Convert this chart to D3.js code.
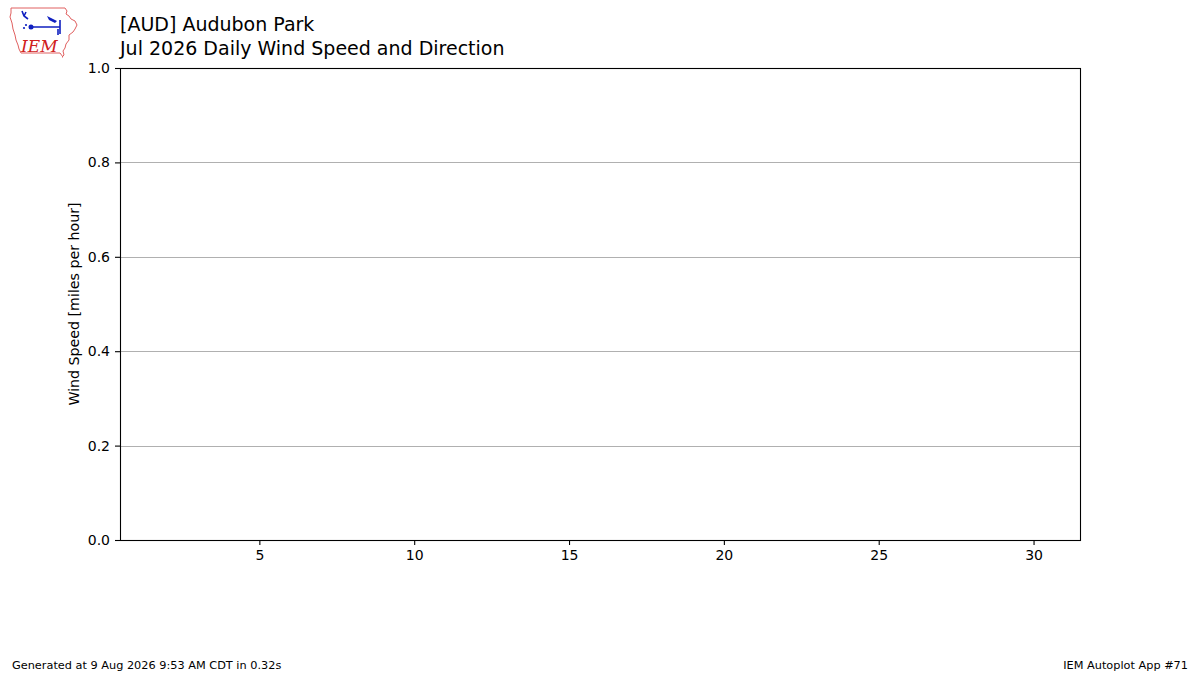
<!DOCTYPE html>
<html>
<head>
<meta charset="utf-8">
<script src="https://cdn.jsdelivr.net/npm/d3@7"></script>
<style>
  body { margin: 0; background: #fff; }
  svg text { font-family: "DejaVu Sans", sans-serif; }
</style>
</head>
<body>
<div class="container_graph"></div>
<script>
// station / month labels
const stationTitle = "[AUD] Audubon Park";
const chartTitle = "Jul 2026 Daily Wind Speed and Direction";
const footerLeft = "Generated at 9 Aug 2026 9:53 AM CDT in 0.32s";
const footerRight = "IEM Autoplot App #71";

// no observations for the month
const days = [];
const avgSpeed = [];
const xTicks = [5, 10, 15, 20, 25, 30];
const yTicks = [0, 0.2, 0.4, 0.6, 0.8, 1.0];

const width = 1200;
const height = 675;
const margin = { top: 68, right: 120, bottom: 135, left: 120 };

const svg = d3
  .select(".container_graph")
  .append("svg")
  .attr("width", width)
  .attr("height", height);

const xScale = d3
  .scaleLinear()
  .domain([0.5, 31.5])
  .range([margin.left, width - margin.right]);

const yScale = d3
  .scaleLinear()
  .domain([0, 1])
  .range([height - margin.bottom, margin.top]);

// grid
svg
  .append("g")
  .selectAll("line")
  .data(yTicks)
  .enter()
  .append("line")
  .attr("x1", margin.left)
  .attr("x2", width - margin.right)
  .attr("y1", (d) => Math.round(yScale(d)) + 0.5)
  .attr("y2", (d) => Math.round(yScale(d)) + 0.5)
  .attr("stroke", "#b0b0b0")
  .attr("stroke-width", 1);

// bars (empty month)
svg
  .selectAll("rect.bar")
  .data(days)
  .enter()
  .append("rect")
  .attr("class", "bar")
  .attr("x", (d) => xScale(d - 0.4))
  .attr("width", xScale(1) - xScale(0.2))
  .attr("y", (d, i) => yScale(avgSpeed[i]))
  .attr("height", (d, i) => yScale(0) - yScale(avgSpeed[i]))
  .attr("fill", "#1f77b4");

const gx = svg
  .append("g")
  .attr("transform", `translate(0,${height - margin.bottom})`)
  .call(d3.axisBottom(xScale).tickValues(xTicks).tickSize(5).tickPadding(5));

const gy = svg
  .append("g")
  .attr("transform", `translate(${margin.left},0)`)
  .call(
    d3
      .axisLeft(yScale)
      .tickValues(yTicks)
      .tickFormat(d3.format(".1f"))
      .tickSize(5)
      .tickPadding(5)
  );

[gx, gy].forEach((g) => {
  g.select(".domain").remove();
  g.selectAll("text")
    .style("font-size", "14px")
    .attr("fill", "#000")
    .style("font-family", "DejaVu Sans");
  g.selectAll("line").attr("stroke", "#000").attr("stroke-width", 1.1);
});

// frame
svg
  .append("rect")
  .attr("x", margin.left + 0.5)
  .attr("y", margin.top + 0.5)
  .attr("width", width - margin.left - margin.right)
  .attr("height", height - margin.top - margin.bottom)
  .attr("fill", "none")
  .attr("stroke", "#000")
  .attr("stroke-width", 1.1);

svg
  .append("text")
  .attr("transform", `translate(79, ${(margin.top + height - margin.bottom) / 2}) rotate(-90)`)
  .attr("text-anchor", "middle")
  .style("font-size", "14.2px")
  .text("Wind Speed [miles per hour]");

// titles
svg
  .append("text")
  .attr("x", 120)
  .attr("y", 31)
  .style("font-size", "19px")
  .text(stationTitle);

svg
  .append("text")
  .attr("x", 120)
  .attr("y", 55)
  .style("font-size", "19px")
  .text(chartTitle);

// footer
svg
  .append("text")
  .attr("x", 12)
  .attr("y", 669)
  .style("font-size", "11.3px")
  .text(footerLeft);

svg
  .append("text")
  .attr("x", 1188)
  .attr("y", 669)
  .attr("text-anchor", "end")
  .style("font-size", "11.3px")
  .text(footerRight);

// IEM logo
const logo = svg.append("g").attr("transform", "translate(9,7)");
logo
  .append("path")
  .attr(
    "d",
    "M2,1 L56,1 L58,4 L57,7 L60,9 L62,12 L66,14 L68,18 L66,22 L64,25 L60,28 L60,33 L57,37 L56,41 L54,44 L55,48 L53,50 L54,50 L51,46 L12,46 L10,42 L9,38 L7,33 L6,28 L4,22 L3,16 L1,10 L2,6 Z"
  )
  .attr("fill", "none")
  .attr("stroke", "#e06060")
  .attr("stroke-width", 1);
logo
  .append("path")
  .attr("d", "M13,4 L15,9 L19,12 M15,9 L17,5 M22,20 L51,20 M51,13 L51,27 M49,22 L49,28")
  .attr("fill", "none")
  .attr("stroke", "#1020c0")
  .attr("stroke-width", 1.6);
logo.append("circle").attr("cx", 22).attr("cy", 20).attr("r", 2.5).attr("fill", "#1020c0");
logo.append("circle").attr("cx", 15).attr("cy", 21).attr("r", 1.1).attr("fill", "#1020c0");
logo.append("circle").attr("cx", 17).attr("cy", 18).attr("r", 1.1).attr("fill", "#1020c0");
logo
  .append("path")
  .attr("d", "M38,9 L48,14 L46,16 L40,13 Z")
  .attr("fill", "#1020c0");
logo
  .append("text")
  .attr("x", 12)
  .attr("y", 45)
  .style("font-family", "DejaVu Serif")
  .style("font-style", "italic")
  .style("font-size", "17px")
  .attr("fill", "#d02020")
  .text("IEM");
</script>
</body>
</html>
